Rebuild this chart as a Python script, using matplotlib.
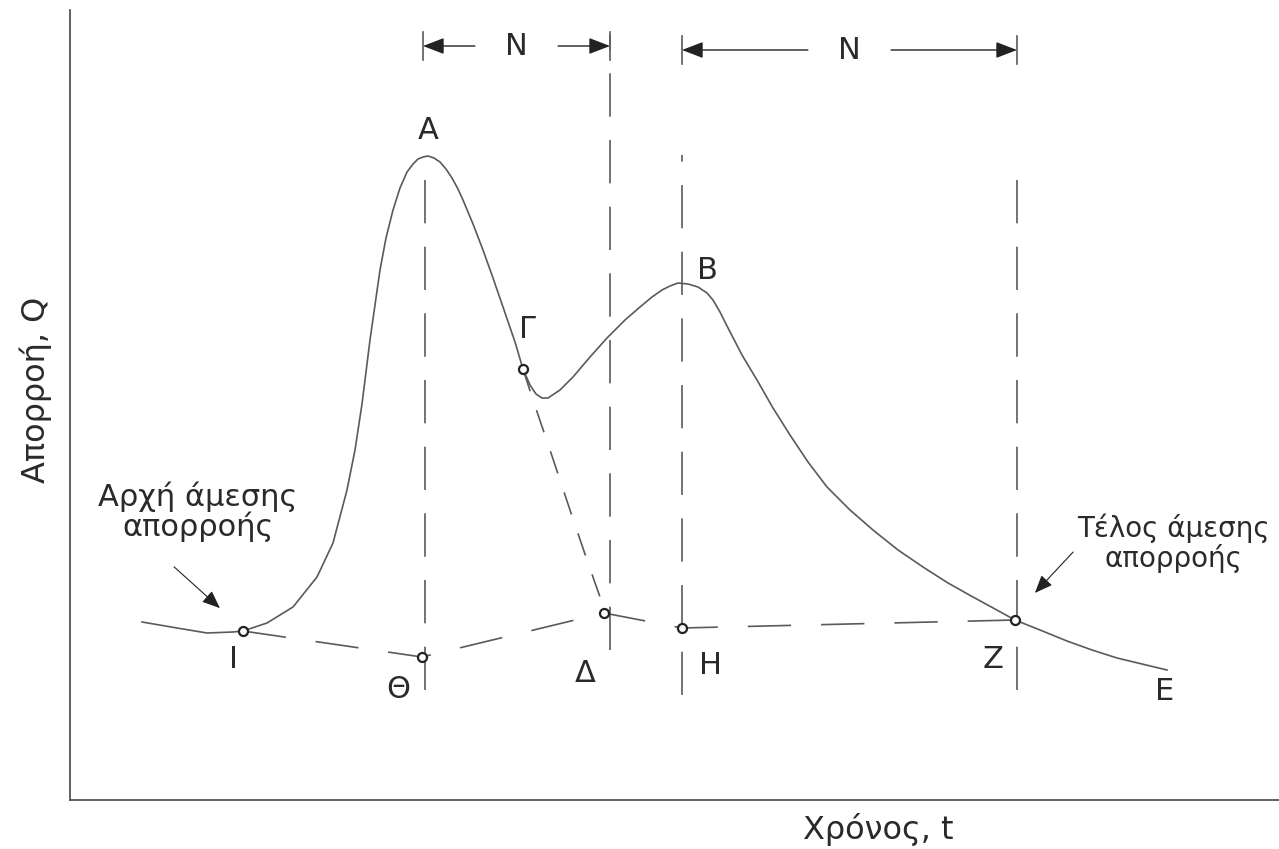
import matplotlib
matplotlib.use("Agg")
import matplotlib.pyplot as plt

# Υδρογράφημα: χρόνος t, απορροή Q (αυθαίρετες μονάδες, διαβασμένες από το σχήμα)
hydro_t = [72, 107, 137, 163, 173, 197, 223, 247, 263, 277, 285, 292, 300, 310,
           316, 323, 330, 337, 343, 348, 353, 358, 364, 370, 376, 382, 388, 393,
           403, 413, 423, 433, 445, 453, 460, 466, 472, 478, 490, 503, 520, 537,
           555, 570, 582, 592, 600, 608, 618, 628, 637, 643, 650, 657, 672, 687,
           703, 720, 738, 757, 780, 803, 828, 853, 878, 903, 925, 945, 970, 997,
           1022, 1047, 1072, 1097]
hydro_q = [178, 172, 167, 168, 169, 177, 193, 223, 257, 310, 350, 396, 460, 530,
           562, 590, 612, 628, 636, 641, 643, 644, 642, 638, 631, 622, 611, 600,
           576, 550, 522, 493, 458, 431, 415, 406, 402, 402, 410, 423, 443, 462,
           480, 493, 503, 510, 514, 517, 516, 513, 507, 500, 488, 474, 445, 420,
           392, 365, 338, 313, 290, 270, 250, 233, 217, 203, 191, 180, 170, 159,
           150, 142, 136, 130]

# καμπύλη ύφεσης της πρώτης αιχμής (Γ -> Δ)
recess_t = [453, 463, 480, 500, 517, 530, 534]
recess_q = [431, 400, 350, 290, 240, 203, 187]

# γραμμή διαχωρισμού βασικής ροής: Ι, Θ, Δ, Η, Ζ
base_t = [173, 352, 534, 612, 945]
base_q = [169, 143, 187, 172, 180]

# σημείο Γ
gamma_t = [453]
gamma_q = [431]

# κατακόρυφες γραμμές (t, Q κάτω, Q πάνω)
vline_t = [355, 540, 612, 947]
vline_q0 = [110, 150, 105, 110]
vline_q1 = [637, 765, 645, 640]

# διαστήματα N
n_start = [353, 612]
n_end = [540, 947]
n_q = [754, 750]

# ετικέτες σημείων
lab_txt = ["Α", "Γ", "Β", "Δ", "Η", "Θ", "Ι", "Ζ", "Ε"]
lab_t = [358, 458, 637, 515, 640, 328, 163, 923, 1095]
lab_q = [670, 470, 530, 127, 135, 110, 140, 140, 108]

plt.rcParams['font.family'] = ['DejaVu Sans']
col = '#5a5a5a'
tcol = '#2a2a2a'

fig = plt.figure(figsize=(12.79, 8.49), dpi=100)
ax = fig.add_axes([70 / 1279, 49 / 849, 1209 / 1279, 790 / 849])
ax.set_xlim(0, 1209)
ax.set_ylim(0, 790)

ax.plot(hydro_t, hydro_q, color=col, lw=1.2)
ax.plot(recess_t, recess_q, color=col, lw=1.2, dashes=(14, 12))
ax.plot(base_t, base_q, color=col, lw=1.2, dashes=(26, 18))

for t, q0, q1 in zip(vline_t, vline_q0, vline_q1):
    ax.plot([t, t], [q0, q1], color=col, lw=1.2, dashes=(26, 14))

ax.plot(base_t, base_q, 'o', ms=6.5, mfc='white', mec='#222222', mew=1.6)
ax.plot(gamma_t, gamma_q, 'o', ms=6.5, mfc='white', mec='#222222', mew=1.6)

# βέλη N
for t0, t1, q in zip(n_start, n_end, n_q):
    tm = (t0 + t1) / 2
    ax.text(tm, q, "N", ha='center', va='center', fontsize=22, color=tcol)
    for te in (t0, t1):
        ax.annotate("", xy=(te, q), xytext=(tm, q),
                    arrowprops=dict(arrowstyle='-|>,head_length=1.3,head_width=0.5',
                                    color='#222222', lw=1.0, shrinkA=30, shrinkB=0))
        ax.plot([te, te], [q - 14, q + 14], color=col, lw=1.2)

for s, t, q in zip(lab_txt, lab_t, lab_q):
    ax.text(t, q, s, ha='center', va='center', fontsize=22, color=tcol)

ax.text(128, 288, "Αρχή άμεσης\nαπορροής", ha='center', va='center',
        fontsize=22, color=tcol, linespacing=1.0)
ax.annotate("", xy=(152, 190), xytext=(102, 235),
            arrowprops=dict(arrowstyle='-|>,head_length=1.1,head_width=0.45',
                            color='#222222', lw=0.8))

ax.text(1103, 257, "Τέλος άμεσης\nαπορροής", ha='center', va='center',
        fontsize=20, color=tcol, linespacing=1.05)
ax.annotate("", xy=(963, 205), xytext=(1005, 250),
            arrowprops=dict(arrowstyle='-|>,head_length=1.1,head_width=0.45',
                            color='#222222', lw=0.8))

ax.set_xticks([])
ax.set_yticks([])
ax.spines['top'].set_visible(False)
ax.spines['right'].set_visible(False)
for sp in ('left', 'bottom'):
    ax.spines[sp].set_color('#555555')
    ax.spines[sp].set_linewidth(1.3)

fig.text(878 / 1279, 1 - 830 / 849, "Χρόνος, t", ha='center', va='center',
         fontsize=23, color=tcol)
fig.text(36 / 1279, 1 - 390 / 849, "Απορροή, Q", ha='center', va='center',
         rotation=90, fontsize=23, color=tcol)

fig.savefig("out.png", dpi=100)
